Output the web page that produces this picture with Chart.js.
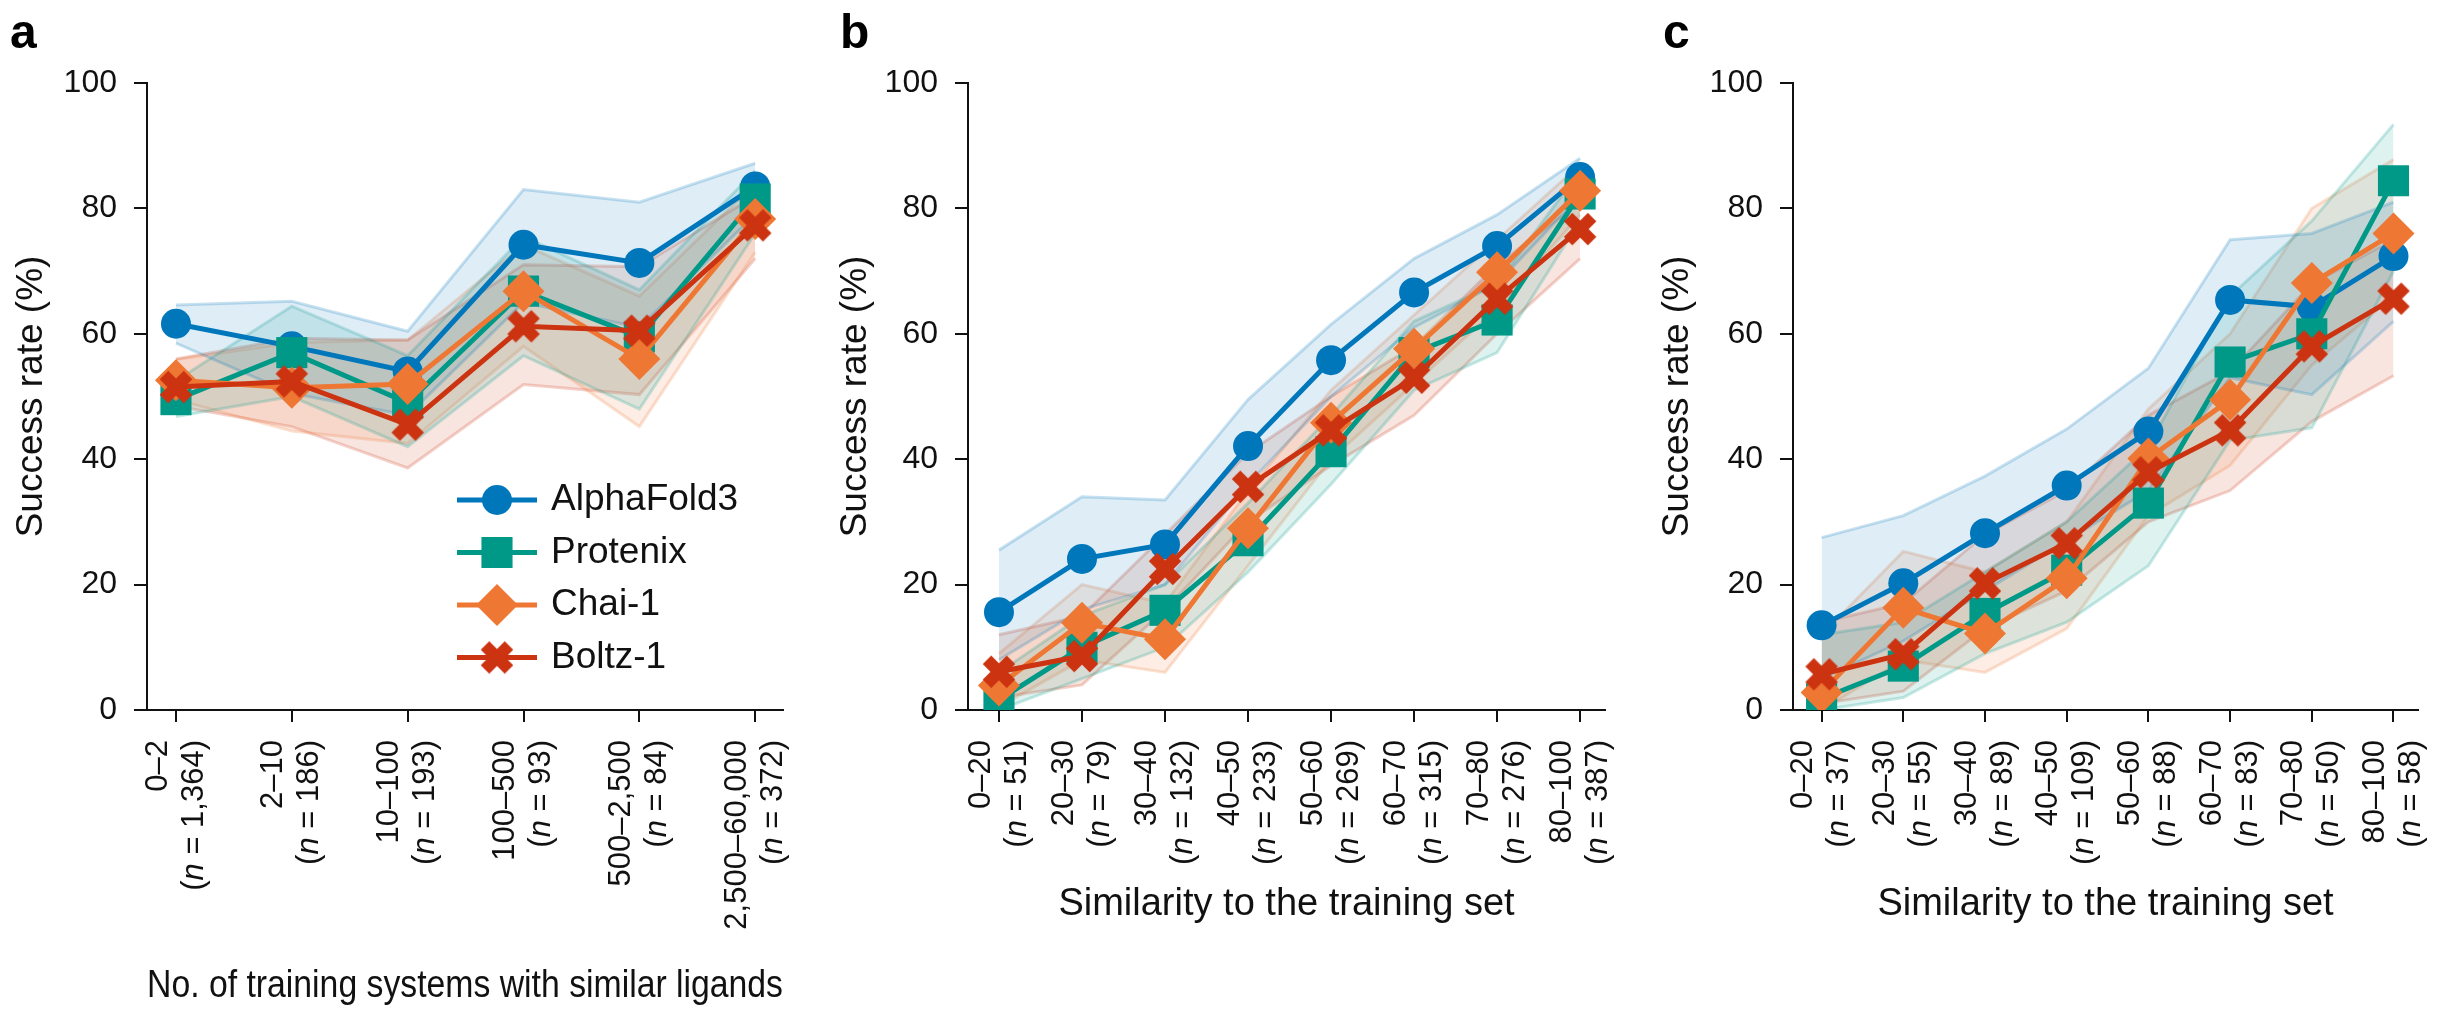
<!DOCTYPE html>
<html lang="en">
<head>
<meta charset="UTF-8">
<title>Success rate against similarity to the training set</title>
<script src="https://cdn.jsdelivr.net/npm/chart.js"></script>
<style>
    body { margin: 0; background: #fff; }
    .panel { position: absolute; top: 0; height: 1014px; }
</style>
</head>
<body>
<div class="panel" style="left:0;width:900px"><canvas id="chartA"></canvas></div>
<div class="panel" style="left:820px;width:810px"><canvas id="chartB"></canvas></div>
<div class="panel" style="left:1640px;width:800px"><canvas id="chartC"></canvas></div>

<script>

var models = ['AlphaFold3', 'Protenix', 'Chai-1', 'Boltz-1'];
var modelColors = ['#0077BB', '#009988', '#EE7733', '#CC3311'];

var ligandBins = ['0–2', '2–10', '10–100', '100–500', '500–2,500', '2,500–60,000'];
var ligandCounts = ['1,364', '186', '193', '93', '84', '372'];
var simBins = ['0–20', '20–30', '30–40', '40–50', '50–60', '60–70', '70–80', '80–100'];
var simCountsB = ['51', '79', '132', '233', '269', '315', '276', '387'];
var simCountsC = ['37', '55', '89', '109', '88', '83', '50', '58'];

// panel a: success rate (%) with its shaded band
var af3A = [61.6, 58.0, 54.0, 74.2, 71.3, 83.5];
var af3ALow = [58.5, 50.5, 47.0, 65.0, 61.0, 79.0];
var af3AHigh = [64.6, 65.2, 60.4, 83.0, 81.0, 87.2];
var ptxA = [49.5, 57.0, 49.0, 66.8, 59.5, 81.5];
var ptxALow = [46.8, 50.0, 42.0, 56.5, 48.0, 76.0];
var ptxAHigh = [52.5, 64.4, 56.5, 75.5, 67.0, 86.0];
var chaiA = [52.6, 51.4, 52.0, 66.8, 56.0, 78.3];
var chaiALow = [49.5, 44.5, 42.5, 58.0, 45.2, 73.0];
var chaiAHigh = [55.9, 58.6, 59.0, 74.2, 66.0, 84.0];
var boltzA = [51.5, 52.4, 45.5, 61.2, 60.5, 77.3];
var boltzALow = [48.5, 45.2, 38.6, 51.9, 50.3, 72.0];
var boltzAHigh = [56.0, 59.3, 59.0, 71.0, 70.7, 82.0];

// panel b
var af3B = [15.6, 24.1, 26.4, 42.1, 55.8, 66.6, 74.0, 85.0];
var af3BLow = [8.0, 16.0, 20.0, 36.0, 50.0, 61.0, 68.0, 82.0];
var af3BHigh = [25.5, 34.0, 33.5, 49.5, 61.5, 72.0, 79.0, 88.0];
var ptxB = [1.6, 10.0, 15.9, 27.0, 41.2, 57.0, 62.2, 82.3];
var ptxBLow = [0.0, 5.0, 10.0, 22.0, 36.0, 51.0, 57.0, 78.0];
var ptxBHigh = [6.0, 15.0, 20.0, 33.0, 47.0, 62.0, 68.0, 86.0];
var chaiB = [3.9, 13.9, 11.3, 29.0, 45.8, 57.6, 69.8, 82.8];
var chaiBLow = [0.5, 8.0, 6.0, 23.0, 40.0, 52.0, 64.0, 79.0];
var chaiBHigh = [9.0, 20.0, 17.0, 35.0, 51.0, 63.0, 75.0, 87.0];
var boltzB = [6.1, 8.6, 22.5, 35.6, 44.6, 53.0, 65.6, 76.7];
var boltzBLow = [2.0, 4.0, 16.0, 30.0, 39.0, 47.0, 60.0, 72.0];
var boltzBHigh = [12.0, 15.0, 28.0, 41.0, 50.0, 58.0, 71.0, 81.0];

// panel c
var af3C = [13.5, 20.2, 28.2, 35.8, 44.4, 65.4, 64.3, 72.4];
var af3CLow = [5.0, 11.0, 19.0, 27.0, 35.0, 53.0, 50.3, 62.0];
var af3CHigh = [27.5, 31.0, 37.3, 44.8, 54.5, 75.0, 76.0, 81.0];
var ptxC = [1.8, 7.0, 15.4, 22.3, 33.0, 55.5, 60.0, 84.4];
var ptxCLow = [0.0, 2.0, 9.0, 14.0, 23.0, 43.0, 45.0, 70.0];
var ptxCHigh = [12.0, 14.0, 22.0, 30.0, 42.0, 66.0, 78.0, 93.4];
var chaiC = [2.8, 16.3, 12.2, 21.0, 40.1, 49.5, 68.1, 76.0];
var chaiCLow = [0.0, 8.0, 6.0, 13.0, 31.0, 39.0, 55.0, 66.0];
var chaiCHigh = [12.0, 25.3, 22.0, 30.0, 48.0, 60.0, 80.0, 87.8];
var boltzC = [5.7, 8.9, 20.2, 26.6, 37.9, 44.6, 58.0, 65.6];
var boltzCLow = [1.0, 3.0, 13.0, 19.0, 30.0, 35.0, 46.0, 53.3];
var boltzCHigh = [14.0, 17.0, 28.0, 35.0, 47.0, 54.0, 68.0, 75.0];

var ink = '#111111';
var fontFamily = "'Liberation Sans', Arial, sans-serif";

// filled X used for Boltz-1
function makeCrossMark(color) {
    var size = 36;
    var c = document.createElement('canvas');
    c.width = size;
    c.height = size;
    var g = c.getContext('2d');
    g.fillStyle = color;
    g.translate(size / 2, size / 2);
    g.rotate(Math.PI / 4);
    g.fillRect(-17, -6, 34, 12);
    g.fillRect(-6, -17, 12, 34);
    return c;
}

var markerStyles = ['circle', 'rect', 'rectRot', makeCrossMark(modelColors[3])];
var markerRadii = [15, 22, 21, 16];

function rgba(hex, a) {
    var n = parseInt(hex.slice(1), 16);
    return 'rgba(' + (n >> 16) + ',' + ((n >> 8) & 255) + ',' + (n & 255) + ',' + a + ')';
}

function toPoints(values) {
    return values.map(function (v, i) { return { x: i, y: v }; });
}

function bandDatasets(high, low, color) {
    var edge = {
        borderColor: rgba(color, 0.22),
        borderWidth: 3,
        pointRadius: 0,
        tension: 0,
        order: 10
    };
    return [
        Object.assign({ data: toPoints(high), fill: '+1', backgroundColor: rgba(color, 0.13) }, edge),
        Object.assign({ data: toPoints(low), fill: false }, edge)
    ];
}

function lineDataset(values, i) {
    return {
        label: models[i],
        data: toPoints(values),
        borderColor: modelColors[i],
        backgroundColor: modelColors[i],
        borderWidth: 5,
        pointStyle: markerStyles[i],
        pointRadius: markerRadii[i],
        pointBorderWidth: 0,
        fill: false,
        tension: 0,
        order: 4 - i
    };
}

function buildDatasets(series) {
    var sets = [];
    series.forEach(function (s, i) {
        sets = sets.concat(bandDatasets(s[2], s[1], modelColors[i]));
    });
    series.forEach(function (s, i) {
        sets.push(lineDataset(s[0], i));
    });
    return sets;
}

// category labels under the x axis, rotated, with an italic n
var binLabels = {
    id: 'binLabels',
    afterDraw: function (chart, args, opts) {
        var ctx = chart.ctx;
        var xs = chart.scales.x;
        var regular = '31px ' + fontFamily;
        var italic = 'italic 31px ' + fontFamily;
        ctx.save();
        ctx.fillStyle = ink;
        ctx.textBaseline = 'middle';
        opts.bins.forEach(function (bin, i) {
            var px = xs.getPixelForValue(i);
            ctx.save();
            ctx.translate(px, xs.top + 30);
            ctx.rotate(-Math.PI / 2);
            ctx.font = regular;
            ctx.textAlign = 'right';
            ctx.fillText(bin, 0, -18);
            var parts = [['(', regular], ['n', italic], [' = ' + opts.counts[i] + ')', regular]];
            var total = 0;
            parts.forEach(function (p) { ctx.font = p[1]; total += ctx.measureText(p[0]).width; });
            var x = -total;
            ctx.textAlign = 'left';
            parts.forEach(function (p) {
                ctx.font = p[1];
                ctx.fillText(p[0], x, 18);
                x += ctx.measureText(p[0]).width;
            });
            ctx.restore();
        });
        ctx.restore();
    }
};

var panelLetter = {
    id: 'panelLetter',
    afterDraw: function (chart, args, opts) {
        var ctx = chart.ctx;
        ctx.save();
        ctx.fillStyle = '#000';
        ctx.font = 'bold 48px ' + fontFamily;
        ctx.textBaseline = 'alphabetic';
        ctx.fillText(opts.text, opts.x, 48);
        ctx.restore();
    }
};

var seriesKey = {
    id: 'seriesKey',
    afterDraw: function (chart, args, opts) {
        if (!opts.show) return;
        var ctx = chart.ctx;
        ctx.save();
        models.forEach(function (name, i) {
            var y = opts.top + i * opts.gap;
            ctx.strokeStyle = modelColors[i];
            ctx.lineWidth = 5;
            ctx.beginPath();
            ctx.moveTo(opts.left, y);
            ctx.lineTo(opts.left + 80, y);
            ctx.stroke();
            ctx.fillStyle = modelColors[i];
            Chart.helpers.drawPoint(ctx, {
                pointStyle: markerStyles[i],
                radius: markerRadii[i],
                rotation: 0,
                borderWidth: 0
            }, opts.left + 40, y);
            ctx.fillStyle = ink;
            ctx.font = '37px ' + fontFamily;
            ctx.textAlign = 'left';
            ctx.textBaseline = 'middle';
            ctx.fillText(name, opts.left + 94, y);
        });
        ctx.restore();
    }
};

function makeChart(id, p) {
    var ctx = document.getElementById(id).getContext('2d');
    return new Chart(ctx, {
        type: 'line',
        data: { datasets: buildDatasets(p.series) },
        plugins: [binLabels, panelLetter, seriesKey],
        options: {
            responsive: true,
            maintainAspectRatio: false,
            animation: false,
            layout: { padding: { top: 83, right: p.padRight, bottom: 0, left: 0 } },
            plugins: {
                legend: { display: false },
                tooltip: { enabled: false },
                binLabels: { bins: p.bins, counts: p.counts },
                panelLetter: { text: p.letter, x: p.letterX },
                seriesKey: { show: p.key, left: 457, top: 500, gap: 52.5 }
            },
            scales: {
                x: {
                    type: 'linear',
                    min: p.xMin,
                    max: p.xMax,
                    afterBuildTicks: function (s) {
                        s.ticks = p.bins.map(function (b, i) { return { value: i }; });
                    },
                    afterFit: function (s) { s.height = 304; },
                    ticks: { display: false },
                    grid: { drawOnChartArea: false, drawTicks: true, tickLength: 12, color: ink, lineWidth: 2 },
                    border: { display: true, color: ink, width: 2 },
                    title: {
                        display: true,
                        text: p.xTitle,
                        color: ink,
                        font: { family: fontFamily, size: 38 },
                        padding: { top: 0, bottom: p.xTitlePad }
                    }
                },
                y: {
                    min: 0,
                    max: 100,
                    afterFit: function (s) { s.width = p.axisLeft; },
                    ticks: { stepSize: 20, color: ink, padding: 17, font: { family: fontFamily, size: 32 } },
                    grid: { drawOnChartArea: false, drawTicks: true, tickLength: 13, color: ink, lineWidth: 2 },
                    border: { display: true, color: ink, width: 2 },
                    title: {
                        display: true,
                        text: 'Success rate (%)',
                        color: ink,
                        font: { family: fontFamily, size: 37 },
                        padding: { top: p.yTitlePad, bottom: 0 }
                    }
                }
            }
        }
    });
}

var chartA = makeChart('chartA', {
    series: [[af3A, af3ALow, af3AHigh], [ptxA, ptxALow, ptxAHigh], [chaiA, chaiALow, chaiAHigh], [boltzA, boltzALow, boltzAHigh]],
    bins: ligandBins, counts: ligandCounts,
    xMin: -0.25, xMax: 5.24, axisLeft: 147, padRight: 117,
    xTitle: 'No. of training systems with similar ligands', xTitlePad: 5, yTitlePad: 10,
    letter: 'a', letterX: 10, key: true
});

var chartB = makeChart('chartB', {
    series: [[af3B, af3BLow, af3BHigh], [ptxB, ptxBLow, ptxBHigh], [chaiB, chaiBLow, chaiBHigh], [boltzB, boltzBLow, boltzBHigh]],
    bins: simBins, counts: simCountsB,
    xMin: -0.373, xMax: 7.3, axisLeft: 148, padRight: 25,
    xTitle: 'Similarity to the training set', xTitlePad: 87, yTitlePad: 14,
    letter: 'b', letterX: 20, key: false
});

var chartC = makeChart('chartC', {
    series: [[af3C, af3CLow, af3CHigh], [ptxC, ptxCLow, ptxCHigh], [chaiC, chaiCLow, chaiCHigh], [boltzC, boltzCLow, boltzCHigh]],
    bins: simBins, counts: simCountsC,
    xMin: -0.35, xMax: 7.3, axisLeft: 153, padRight: 15,
    xTitle: 'Similarity to the training set', xTitlePad: 87, yTitlePad: 16,
    letter: 'c', letterX: 23, key: false
});

</script>
</body>
</html>
